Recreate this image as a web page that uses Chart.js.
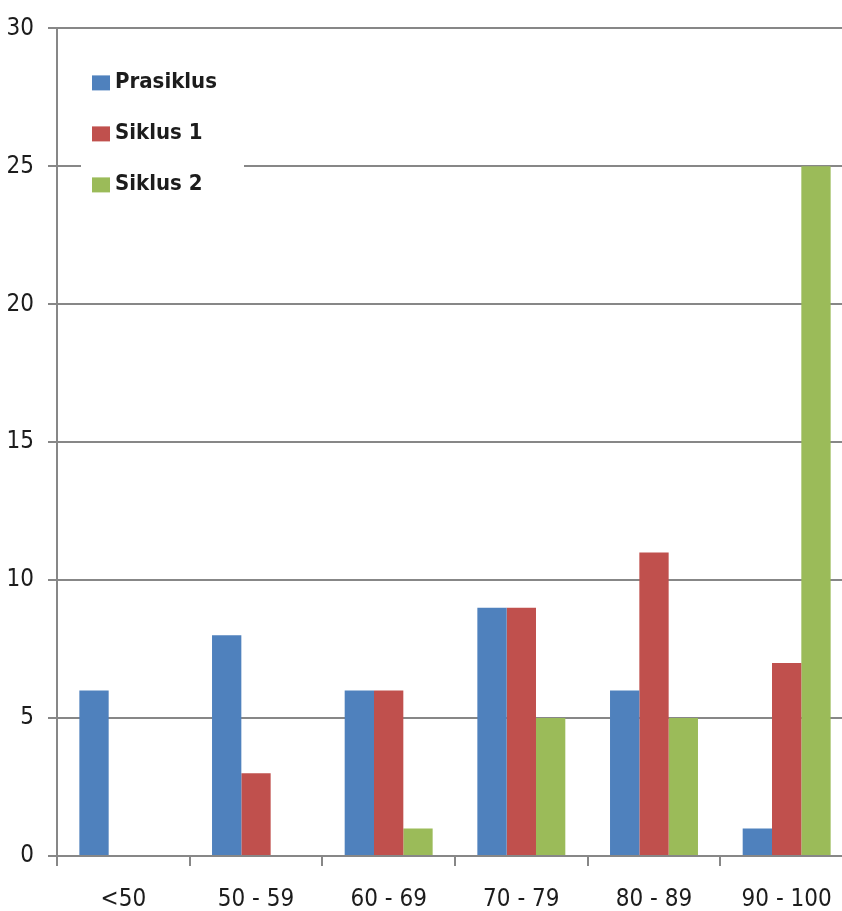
<!DOCTYPE html>
<html>
<head>
<meta charset="utf-8">
<script src="https://cdn.jsdelivr.net/npm/chart.js@4"></script>
<style>
  html, body { margin: 0; padding: 0; background: #fff; overflow: hidden; }
  #wrap { position: relative; width: 870px; height: 911px; }
</style>
</head>
<body>
<div id="wrap"><canvas id="c" width="870" height="911"></canvas></div>
<script>
// Score ranges
const categories = ['<50', '50 - 59', '60 - 69', '70 - 79', '80 - 89', '90 - 100'];
// Number of students per range
const prasiklus = [6, 8, 6, 9, 6, 1];
const siklus1 = [0, 3, 6, 9, 11, 7];
const siklus2 = [0, 0, 1, 5, 5, 25];
const seriesNames = ['Prasiklus', 'Siklus 1', 'Siklus 2'];
const yTicks = [0, 5, 10, 15, 20, 25, 30];

const FONT = "'Liberation Sans Narrow', 'DejaVu Sans Condensed', sans-serif";
const GRID = '#878787';
const TEXT = '#1c1c1c';

// Legend drawn inside the plot area on a white panel
const insideLegend = {
  id: 'insideLegend',
  beforeDatasetsDraw(chart) {
    const ctx = chart.ctx;
    const a = chart.chartArea;
    ctx.save();
    ctx.fillStyle = '#ffffff';
    ctx.fillRect(a.left + 24, a.top + 22, 163, 160);
    ctx.font = 'bold 22px ' + FONT;
    ctx.textBaseline = 'middle';
    ctx.textAlign = 'left';
    chart.data.datasets.forEach((ds, i) => {
      const y = a.top + 54 + i * 51;
      ctx.fillStyle = ds.backgroundColor;
      ctx.fillRect(a.left + 35, y - 7, 18, 15);
      ctx.fillStyle = TEXT;
      ctx.fillText(ds.label, a.left + 58, y);
    });
    ctx.restore();
  }
};

new Chart(document.getElementById('c'), {
  type: 'bar',
  data: {
    labels: categories,
    datasets: [
      { label: seriesNames[0], data: prasiklus, backgroundColor: '#4F81BD' },
      { label: seriesNames[1], data: siklus1, backgroundColor: '#C0504D' },
      { label: seriesNames[2], data: siklus2, backgroundColor: '#9BBB59' }
    ]
  },
  options: {
    responsive: false,
    animation: false,
    events: [],
    layout: { padding: { top: 28, right: 17, left: 0, bottom: 0 } },
    plugins: {
      legend: { display: false },
      tooltip: { enabled: false }
    },
    datasets: {
      bar: { categoryPercentage: 0.663, barPercentage: 1.0, borderWidth: 0 }
    },
    scales: {
      x: {
        afterFit(s) { s.height = 55; },
        grid: { drawOnChartArea: false, drawTicks: true, tickLength: 10, color: GRID, lineWidth: 2 },
        border: { display: true, color: GRID, width: 2 },
        ticks: { color: TEXT, font: { family: FONT, size: 24 }, padding: 19, maxRotation: 0, autoSkip: false }
      },
      y: {
        min: 0,
        max: 30,
        afterFit(s) { s.width = 57; },
        afterBuildTicks(s) { s.ticks = yTicks.map(v => ({ value: v })); },
        grid: { color: GRID, lineWidth: 2, tickLength: 9 },
        border: { display: true, color: GRID, width: 2 },
        ticks: { color: TEXT, font: { family: FONT, size: 24 }, padding: 14 }
      }
    }
  },
  plugins: [insideLegend]
});
</script>
</body>
</html>
